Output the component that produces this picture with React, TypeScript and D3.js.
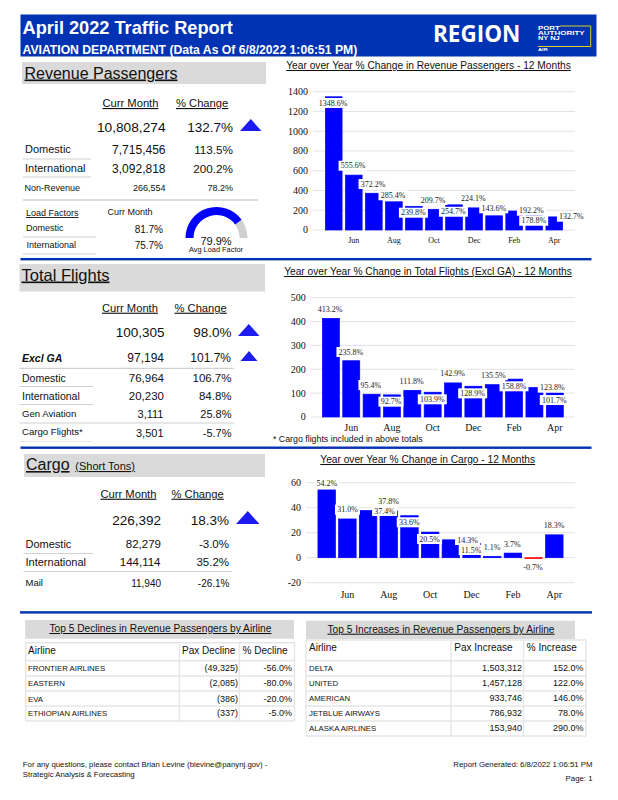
import { arc, scaleBand, scaleLinear } from "d3";

const SANS = "'Liberation Sans', Arial, sans-serif";
const SERIF = "'Liberation Serif', 'Times New Roman', serif";
const BLUE = "#0033b3";

const months = ["May", "Jun", "Jul", "Aug", "Sep", "Oct", "Nov", "Dec", "Jan", "Feb", "Mar", "Apr"];

const paxChange = [1348.6, 555.6, 372.2, 285.4, 239.8, 209.7, 254.7, 224.1, 143.6, 192.2, 178.8, 132.7];
const flightChange = [413.2, 235.8, 95.4, 92.7, 111.8, 103.9, 142.9, 128.9, 135.5, 158.8, 123.8, 101.7];
const cargoChange = [54.2, 31.0, 37.8, 37.4, 33.6, 20.5, 14.3, 11.5, 1.1, 3.7, -0.7, 18.3];

const paxTicks = [0, 200, 400, 600, 800, 1000, 1200, 1400];
const flightTicks = [0, 100, 200, 300, 400, 500];
const cargoTicks = [-20, 0, 20, 40, 60];

// label nudges from the top of each bar, the source chart moved them by hand
const paxShift = [[-0.7, 6.2], [-0.7, -9.4], [-0.8, -9.2], [-0.9, -6.5], [-0.5, 6.4], [-1, -9.3], [-0.6, 6.9], [-0.7, -9.6], [-0.4, -7.5], [17.2, -0.3], [-0.5, 8.4], [17.1, -0.2]];
const flightShift = [[-0.7, -9.1], [-0.3, -8.7], [-0.7, -9.2], [-1, 6.8], [-0.7, -9], [-0.4, 7.1], [-0.4, -9.2], [-0.7, 7.1], [-0.5, -9.4], [-0.1, 7.2], [17.8, 0.2], [-0.5, 7.3]];
const cargoShift = [[0.2, -6.7], [0.1, -9.3], [20.4, -9.45], [-4.2, 0], [-0.2, 6.6], [-0.6, 6.9], [16.7, 0.2], [-0.3, 6.7], [-0.2, -9.3], [-0.6, -9.1], [-0.6, 9.1], [-0.3, -9.1]];

const declineAirlines = ["FRONTIER AIRLINES", "EASTERN", "EVA", "ETHIOPIAN AIRLINES"];
const declinePax = ["(49,325)", "(2,085)", "(386)", "(337)"];
const declinePct = ["-56.0%", "-80.0%", "-20.0%", "-5.0%"];

const increaseAirlines = ["DELTA", "UNITED", "AMERICAN", "JETBLUE AIRWAYS", "ALASKA AIRLINES"];
const increasePax = ["1,503,312", "1,457,128", "933,746", "786,932", "153,940"];
const increasePct = ["152.0%", "122.0%", "146.0%", "78.0%", "290.0%"];

const loadFactor = 79.9;

function T({ x, y, size = 11, anchor = "start", under = false, weight, italic, fill = "#111", font = SANS, fit, children }: any) {
  return (
    <text
      x={x}
      y={y}
      fontSize={size}
      textAnchor={anchor}
      fontFamily={font}
      fontWeight={weight}
      fontStyle={italic ? "italic" : undefined}
      fill={fill}
      textLength={fit}
      lengthAdjust={fit ? "spacingAndGlyphs" : undefined}
      style={under ? { textDecoration: "underline" } : undefined}
    >
      {children}
    </text>
  );
}

function Rule({ x1, x2, y, w = 1, c = "#d0d0d0" }: any) {
  return <line x1={x1} x2={x2} y1={y} y2={y} stroke={c} strokeWidth={w} />;
}

function Up({ x0, x1, y0, y1 }: any) {
  return <polygon points={`${x0},${y1} ${(x0 + x1) / 2},${y0} ${x1},${y1}`} fill="#1c1cf0" />;
}

function BarChart({ values, ticks, shift, xRange, yRange, domain, inner, outer, tickY, monthSize = 8, title, titleX, titleY, titleSize }: any) {
  const x = scaleBand<string>().domain(months).range(xRange).paddingInner(inner).paddingOuter(outer);
  const y = scaleLinear().domain(domain).range(yRange);
  const labels = values.map((v: number, i: number) => {
    const cx = x(months[i])! + x.bandwidth() / 2 + shift[i][0];
    const cy = y(v) + shift[i][1];
    return { text: v.toFixed(1) + "%", cx, cy };
  });
  return (
    <g>
      <T x={titleX} y={titleY} size={titleSize} anchor="middle" under>{title}</T>
      {ticks.map((t: number) => (
        <g key={t}>
          <line x1={xRange[0]} x2={xRange[1]} y1={y(t)} y2={y(t)} stroke="#e3e3e3" strokeWidth={1} />
          <T x={xRange[0] - 5} y={y(t) + 3.4} size={10} anchor="end" font={SERIF}>{t}</T>
        </g>
      ))}
      {values.map((v: number, i: number) => (
        <rect
          key={months[i]}
          x={x(months[i])}
          width={x.bandwidth()}
          y={Math.min(y(v), y(0))}
          height={Math.abs(y(v) - y(0))}
          fill={v < 0 ? "#ff0000" : "#0000ff"}
          stroke={v < 0 ? "#ff0000" : "#0000ff"}
          strokeWidth={0.7}
        />
      ))}
      {months.map((m, i) =>
        i % 2 === 1 ? (
          <T key={m} x={x(m)! + x.bandwidth() / 2} y={tickY} size={monthSize} anchor="middle" font={SERIF}>{m}</T>
        ) : null
      )}
      {labels.map((l: any, i: number) => (
        <g key={i}>
          <rect x={l.cx - (l.text.length * 4 + 5) / 2} width={l.text.length * 4 + 5} y={l.cy - 5} height={10} fill="#fff" />
          <T x={l.cx} y={l.cy + 2.7} size={8} anchor="middle" font={SERIF} fill="#222">{l.text}</T>
        </g>
      ))}
    </g>
  );
}

function Gauge() {
  const shape = arc();
  const start = -Math.PI / 2;
  const end = start + Math.PI * (loadFactor / 100);
  const base = { innerRadius: 23, outerRadius: 31 };
  return (
    <g transform="translate(216.5,238)">
      <path d={shape({ ...base, startAngle: start, endAngle: Math.PI / 2 })!} fill="#d0d0d0" />
      <path d={shape({ ...base, startAngle: start, endAngle: end })!} fill="#0000ff" />
    </g>
  );
}

function AirlineTable({ x0, x1, colA, colB, lines, names, pax, pct, headers, headY, rowYs, textX, headB, headC, rightB, rightC }: any) {
  return (
    <g>
      {lines.map((ly: number) => (
        <Rule key={ly} x1={x0} x2={x1} y={ly} w={1.6} c="#e6e6e6" />
      ))}
      {[x0, colA, colB, x1].map((vx: number) => (
        <line key={vx} x1={vx} x2={vx} y1={lines[0]} y2={lines[lines.length - 1]} stroke="#e6e6e6" strokeWidth={1.4} />
      ))}
      <T x={textX} y={headY} size={10}>{headers[0]}</T>
      <T x={headB} y={headY} size={10}>{headers[1]}</T>
      <T x={headC} y={headY} size={10}>{headers[2]}</T>
      {names.map((n: string, i: number) => (
        <g key={n}>
          <T x={textX} y={rowYs[i]} size={7.8}>{n}</T>
          <T x={rightB} y={rowYs[i]} size={9} anchor="end">{pax[i]}</T>
          <T x={rightC} y={rowYs[i]} size={9} anchor="end">{pct[i]}</T>
        </g>
      ))}
    </g>
  );
}

export default function App() {
  return (
    <svg width={618} height={800} style={{ position: "absolute", left: 0, top: 0, background: "#fff" }}>
      {/* header */}
      <rect x={20.5} y={14.5} width={576} height={42} fill={BLUE} />
      <T x={22.5} y={34} size={18.2} weight="bold" fill="#fff">April 2022 Traffic Report</T>
      <T x={22.5} y={54} size={12.2} weight="bold" fill="#fff">AVIATION DEPARTMENT (Data As Of 6/8/2022 1:06:51 PM)</T>
      <T x={433} y={41.8} size={22.5} weight="bold" fill="#fff" font="'Open Sans', sans-serif">REGION</T>
      <path d="M560 26H590.7V46.5H538" fill="none" stroke="#f2e21b" strokeWidth={0.9} />
      <T x={538} y={30} size={5.2} weight="bold" fill="#fff" fit={21.7}>PORT</T>
      <T x={538} y={35} size={5.2} weight="bold" fill="#fff" fit={46.7}>AUTHORITY</T>
      <T x={538} y={40} size={5.2} weight="bold" fill="#fff" fit={21.7}>NY NJ</T>
      <T x={538} y={51} size={3.8} weight="bold" fill="#fff" fit={9.7}>AIR</T>

      {/* revenue passengers */}
      <rect x={22} y={62} width={244} height={22} fill="#dadada" />
      <T x={24.5} y={78.5} size={16} under>Revenue Passengers</T>
      <T x={102.5} y={107} size={11.2} under>Curr Month</T>
      <T x={176} y={107} size={11.2} under>% Change</T>
      <T x={165.5} y={132} size={13.7} anchor="end">10,808,274</T>
      <T x={233} y={132} size={13.5} anchor="end">132.7%</T>
      <Up x0={240} x1={261.5} y0={119} y1={131} />
      <T x={25} y={153} size={11}>Domestic</T>
      <T x={165.5} y={153.5} size={12} anchor="end">7,715,456</T>
      <T x={233} y={153.5} size={11.7} anchor="end">113.5%</T>
      <Rule x1={23} x2={91} y={159} />
      <T x={25} y={172} size={11}>International</T>
      <T x={165.5} y={172.5} size={12} anchor="end">3,092,818</T>
      <T x={233} y={172.5} size={11.7} anchor="end">200.2%</T>
      <Rule x1={23} x2={91} y={177} />
      <T x={24.5} y={190.5} size={9}>Non-Revenue</T>
      <T x={165.5} y={191} size={9} anchor="end">266,554</T>
      <T x={233} y={191} size={9} anchor="end">78.2%</T>
      <Rule x1={23} x2={258} y={200} w={1.3} />
      <T x={26} y={216} size={9} under>Load Factors</T>
      <T x={107.5} y={215} size={9}>Curr Month</T>
      <T x={26} y={231} size={9}>Domestic</T>
      <T x={163} y={233} size={10} anchor="end">81.7%</T>
      <Rule x1={23} x2={96} y={237} />
      <T x={26.5} y={248} size={9}>International</T>
      <T x={163} y={249} size={10} anchor="end">75.7%</T>
      <Rule x1={23} x2={96} y={254} />
      <Gauge />
      <T x={216} y={244.5} size={11} anchor="middle">{loadFactor}%</T>
      <T x={216} y={252} size={7.4} anchor="middle">Avg Load Factor</T>
      <BarChart
        values={paxChange} ticks={paxTicks} shift={paxShift}
        xRange={[313, 575]} yRange={[230, 91.7]} domain={[0, 1400]}
        inner={0.167} outer={0.617} tickY={243} monthSize={8}
        title="Year over Year % Change in Revenue Passengers - 12 Months" titleX={428.5} titleY={69} titleSize={10.2}
      />
      <rect x={20.5} y={258} width={571} height={2.4} fill={BLUE} />

      {/* total flights */}
      <rect x={19.5} y={264} width={245.5} height={27.5} fill="#dadada" />
      <T x={21.5} y={280.5} size={16.5} under>Total Flights</T>
      <T x={102} y={311.7} size={11.2} under>Curr Month</T>
      <T x={174.5} y={311.7} size={11.2} under>% Change</T>
      <T x={164.5} y={337} size={13.5} anchor="end">100,305</T>
      <T x={231.5} y={337} size={13.5} anchor="end">98.0%</T>
      <Up x0={238} x1={259.5} y0={324} y1={336} />
      <T x={22} y={361.7} size={10.5} weight="bold" italic>Excl GA</T>
      <T x={164} y={361.5} size={12} anchor="end">97,194</T>
      <T x={231} y={361.5} size={12} anchor="end">101.7%</T>
      <Up x0={240.5} x1={257.5} y0={351} y1={361} />
      <Rule x1={19.5} x2={234} y={368.3} w={1.3} />
      <T x={22} y={381.7} size={10.5}>Domestic</T>
      <T x={164} y={382} size={11.5} anchor="end">76,964</T>
      <T x={231.5} y={382} size={11.5} anchor="end">106.7%</T>
      <Rule x1={19.5} x2={93} y={386.5} />
      <T x={22} y={400} size={10.5}>International</T>
      <T x={164} y={400} size={11.5} anchor="end">20,230</T>
      <T x={231.5} y={400} size={11.5} anchor="end">84.8%</T>
      <Rule x1={19.5} x2={93} y={404.5} />
      <T x={22} y={417.3} size={9.6}>Gen Aviation</T>
      <T x={163.5} y={418} size={11} anchor="end">3,111</T>
      <T x={231.5} y={418} size={11} anchor="end">25.8%</T>
      <Rule x1={19.5} x2={234} y={423} w={1.2} />
      <T x={22} y={435} size={9.6}>Cargo Flights*</T>
      <T x={163.5} y={437} size={11} anchor="end">3,501</T>
      <T x={231.5} y={437} size={11} anchor="end">-5.7%</T>
      <Rule x1={19.5} x2={93} y={441.5} c="#e6e6e6" />
      <BarChart
        values={flightChange} ticks={flightTicks} shift={flightShift}
        xRange={[310.7, 575]} yRange={[417, 297.7]} domain={[0, 500]}
        inner={0.165} outer={0.575} tickY={431} monthSize={10}
        title="Year over Year % Change in Total Flights (Excl GA) - 12 Months" titleX={428} titleY={275} titleSize={10.2}
      />
      <T x={273} y={441.5} size={8.8}>* Cargo flights included in above totals</T>
      <rect x={20.5} y={446.5} width={571} height={2.4} fill={BLUE} />

      {/* cargo */}
      <rect x={24} y={454} width={241} height={23} fill="#dadada" />
      <T x={26} y={470} size={16} under>Cargo</T>
      <T x={75.3} y={470} size={11} under>(Short Tons)</T>
      <T x={100.5} y={497.7} size={11.2} under>Curr Month</T>
      <T x={171.5} y={497.7} size={11.2} under>% Change</T>
      <T x={161} y={525} size={13.5} anchor="end">226,392</T>
      <T x={229} y={525} size={13.5} anchor="end">18.3%</T>
      <Up x0={236} x1={259.5} y0={511} y1={524} />
      <T x={25.5} y={547.7} size={11}>Domestic</T>
      <T x={161} y={548} size={11.5} anchor="end">82,279</T>
      <T x={229} y={548} size={11.5} anchor="end">-3.0%</T>
      <Rule x1={23.5} x2={93} y={553.5} />
      <T x={25.5} y={565.7} size={11}>International</T>
      <T x={160.5} y={566} size={11.5} anchor="end">144,114</T>
      <T x={229} y={566} size={11.5} anchor="end">35.2%</T>
      <Rule x1={23.5} x2={232} y={571.5} w={1.2} />
      <T x={25.5} y={586.3} size={9.5}>Mail</T>
      <T x={161} y={586.5} size={10} anchor="end">11,940</T>
      <T x={229.5} y={586.5} size={10} anchor="end">-26.1%</T>
      <BarChart
        values={cargoChange} ticks={cargoTicks} shift={cargoShift}
        xRange={[306, 575]} yRange={[582.7, 482.7]} domain={[-20, 60]}
        inner={0.154} outer={0.577} tickY={597.5} monthSize={10}
        title="Year over Year % Change in Cargo - 12 Months" titleX={427.7} titleY={463} titleSize={10.2}
      />
      <rect x={20} y={611.2} width={572} height={2.4} fill={BLUE} />

      {/* airline tables */}
      <rect x={25.2} y={620} width={268.8} height={18.7} fill="#dadada" />
      <T x={160.4} y={632} size={10.2} anchor="middle" under>Top 5 Declines in Revenue Passengers by Airline</T>
      <AirlineTable
        x0={25.6} x1={294.5} colA={179.5} colB={239.4}
        lines={[642.7, 660.7, 676, 691, 706, 721]}
        names={declineAirlines} pax={declinePax} pct={declinePct}
        headers={["Airline", "Pax Decline", "% Decline"]} headY={654.3}
        rowYs={[671, 686, 701.7, 716]} textX={28}
        headB={182} headC={242.5} rightB={238} rightC={292}
      />
      <rect x={306} y={620.7} width={269} height={18.3} fill="#dadada" />
      <T x={441} y={632.7} size={10.2} anchor="middle" under>Top 5 Increases in Revenue Passengers by Airline</T>
      <AirlineTable
        x0={306} x1={586} colA={451} colB={523.6}
        lines={[640, 660.7, 676, 691, 706, 721, 736]}
        names={increaseAirlines} pax={increasePax} pct={increasePct}
        headers={["Airline", "Pax Increase", "% Increase"]} headY={651.3}
        rowYs={[671, 686, 701, 716, 731]} textX={309}
        headB={454.3} headC={526.8} rightB={522} rightC={583.5}
      />

      {/* footer */}
      <T x={22.8} y={767.3} size={7.8}>For any questions, please contact Brian Levine (blevine@panynj.gov) -</T>
      <T x={22.8} y={776.7} size={7.8}>Strategic Analysis &amp; Forecasting</T>
      <T x={592.5} y={767} size={7.8} anchor="end">Report Generated: 6/8/2022 1:06:51 PM</T>
      <T x={592.5} y={780.5} size={7.8} anchor="end">Page: 1</T>
    </svg>
  );
}
